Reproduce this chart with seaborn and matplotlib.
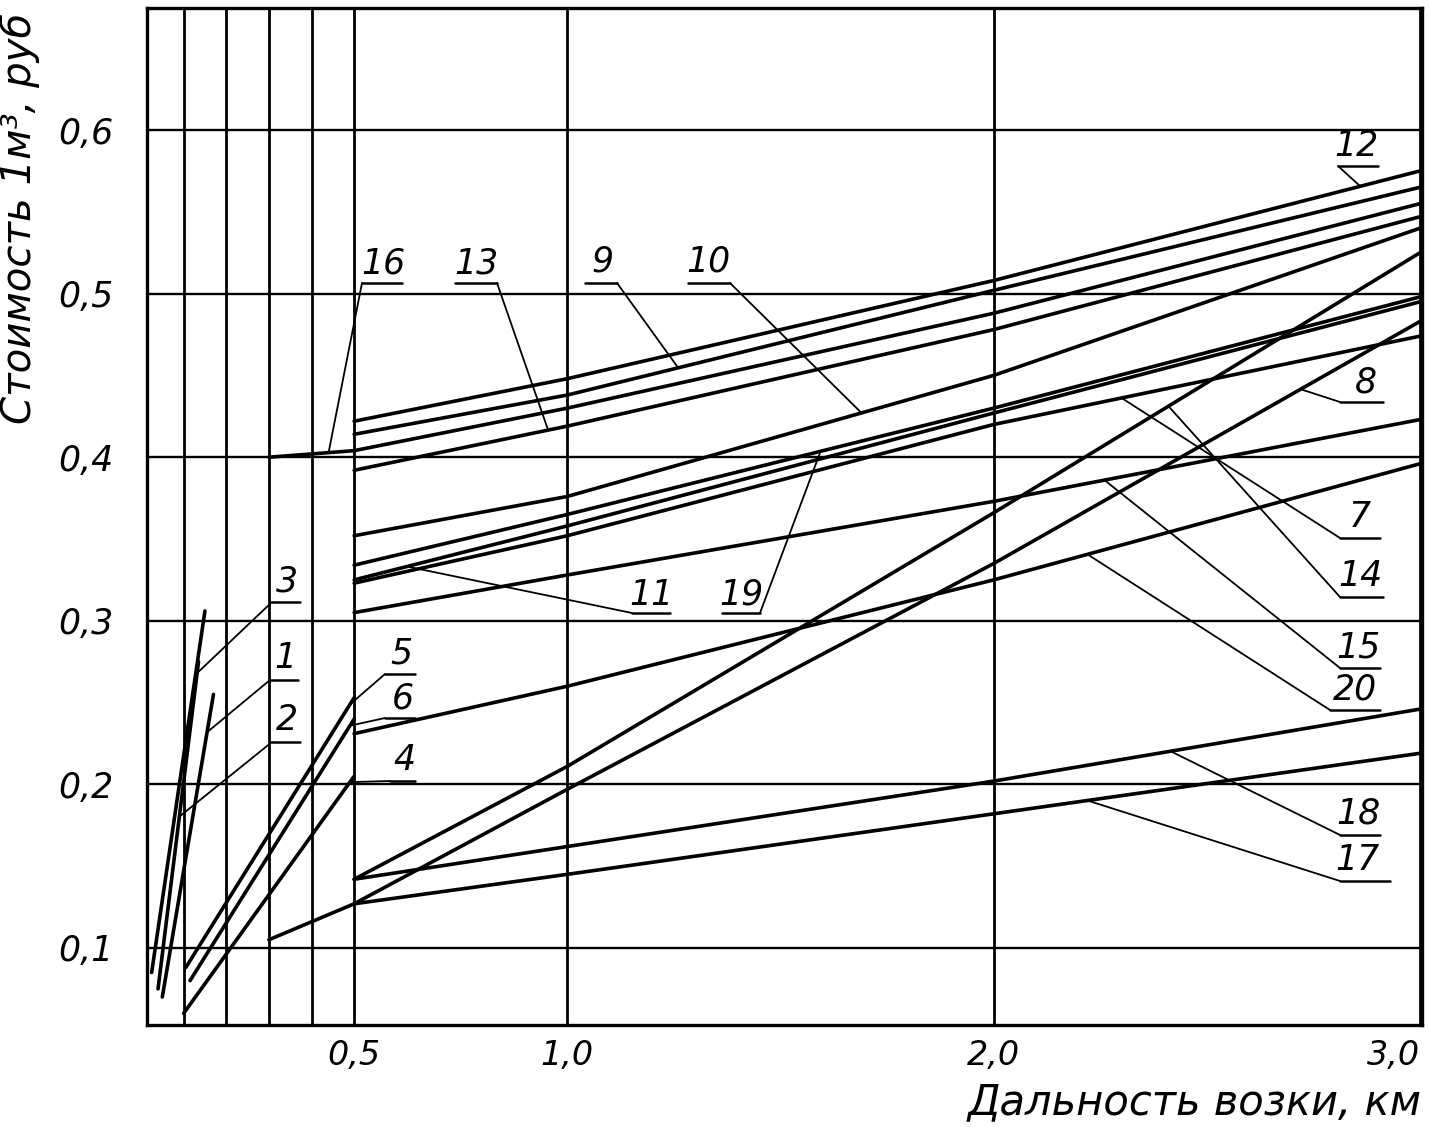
import numpy as np
import pandas as pd
import matplotlib
matplotlib.use("Agg")
import matplotlib.pyplot as plt
import seaborn as sns

# ---------------- data ----------------
x01 = [0.050, 0.170]; y01 = [0.070, 0.255]
x02 = [0.040, 0.135]; y02 = [0.075, 0.275]
x03 = [0.025, 0.150]; y03 = [0.085, 0.306]
x04 = [0.100, 0.500]; y04 = [0.060, 0.205]
x05 = [0.105, 0.500]; y05 = [0.088, 0.253]
x06 = [0.115, 0.500]; y06 = [0.080, 0.240]
xlong = [0.5, 1.0, 2.0, 3.0]
y07 = [0.323, 0.352, 0.420, 0.474]
y08 = [0.127, 0.197, 0.335, 0.483]
y09 = [0.414, 0.438, 0.502, 0.565]
y10 = [0.352, 0.376, 0.450, 0.540]
y11 = [0.325, 0.358, 0.427, 0.495]
y12 = [0.422, 0.448, 0.508, 0.575]
y13 = [0.392, 0.419, 0.478, 0.547]
y14 = [0.142, 0.211, 0.366, 0.525]
y15 = [0.305, 0.328, 0.373, 0.423]
x16 = [0.3, 0.5, 1.0, 2.0, 3.0]; y16 = [0.400, 0.404, 0.430, 0.488, 0.555]
x17 = [0.3, 0.5, 1.0, 2.0, 3.0]; y17 = [0.105, 0.127, 0.145, 0.182, 0.219]
y18 = [0.142, 0.162, 0.202, 0.246]
y19 = [0.334, 0.365, 0.430, 0.498]
y20 = [0.231, 0.260, 0.325, 0.396]

curve_names = ["1", "2", "3", "4", "5", "6", "7", "8", "9", "10",
               "11", "12", "13", "14", "15", "16", "17", "18", "19", "20"]
curve_x = [x01, x02, x03, x04, x05, x06, xlong, xlong, xlong, xlong,
           xlong, xlong, xlong, xlong, xlong, x16, x17, xlong, xlong, xlong]
curve_y = [y01, y02, y03, y04, y05, y06, y07, y08, y09, y10,
           y11, y12, y13, y14, y15, y16, y17, y18, y19, y20]

y_ticks = [0.1, 0.2, 0.3, 0.4, 0.5, 0.6]
y_tick_labels = ["0,1", "0,2", "0,3", "0,4", "0,5", "0,6"]
x_ticks = [0.1, 0.2, 0.3, 0.4, 0.5, 1.0, 2.0, 3.0]
x_tick_labels = ["", "", "", "", "0,5", "1,0", "2,0", "3,0"]

# label callouts: name, text pos (px), underline y (px), underline x1,x2 (px), leader side, target x on curve
lab_name = ["16", "13", "9", "10", "12", "8", "7", "14", "15", "20", "18", "17",
            "11", "19", "3", "1", "2", "5", "6", "4"]
lab_tx = [383, 476, 603, 708, 1356, 1366, 1360, 1360, 1358, 1355, 1358, 1357,
          651, 741, 287, 285, 287, 401, 403, 404]
lab_ty = [264, 264, 262, 262, 146, 383, 517, 576, 648, 690, 814, 860,
          595, 595, 582, 658, 720, 654, 699, 760]
lab_uy = [283, 283, 283, 283, 166, 402, 538, 597, 668, 710, 835, 881,
          613, 613, 602, 680, 742, 674, 718, 781]
lab_u1 = [362, 455, 585, 688, 1338, 1340, 1340, 1340, 1340, 1330, 1340, 1340,
          632, 722, 272, 270, 272, 385, 385, 390]
lab_u2 = [402, 497, 617, 730, 1378, 1383, 1380, 1383, 1380, 1380, 1380, 1390,
          670, 760, 300, 298, 300, 415, 415, 415]
lab_side = ["L", "R", "R", "R", "L", "L", "L", "L", "L", "L", "L", "L",
            "L", "R", "L", "L", "L", "L", "L", "L"]
lab_target = [0.44, 0.955, 1.26, 1.69, 2.86, 2.72, 2.30, 2.41, 2.26, 2.22, 2.415, 2.22,
              0.624, 1.594, 0.128, 0.155, 0.09, 0.49, 0.49, 0.49]

# ---------------- build table ----------------
rows = []
for n, xs, ys in zip(curve_names, curve_x, curve_y):
    for xv, yv in zip(xs, ys):
        rows.append({"curve": n, "x": xv, "y": yv})
df = pd.DataFrame(rows)

# ---------------- figure ----------------
sns.set_theme(style="white")
plt.rcParams["font.family"] = ["DejaVu Sans"]
plt.rcParams["font.style"] = "italic"
plt.rcParams["text.color"] = "black"
plt.rcParams["axes.labelcolor"] = "black"
plt.rcParams["xtick.color"] = "black"
plt.rcParams["ytick.color"] = "black"

W, H = 1429, 1127
fig = plt.figure(figsize=(W / 100, H / 100), dpi=100)
ax_l, ax_r, ax_b, ax_t = 147, 1422, 1025, 8
ax = fig.add_axes([ax_l / W, 1 - ax_b / H, (ax_r - ax_l) / W, (ax_b - ax_t) / H])

XMIN, XMAX = 0.0141, 3.0047
YMIN, YMAX = 0.0529, 0.6746
ax.set_xlim(XMIN, XMAX)
ax.set_ylim(YMIN, YMAX)

def px2data(px, py):
    xd = XMIN + (px - ax_l) / (ax_r - ax_l) * (XMAX - XMIN)
    yd = YMAX - (py - ax_t) / (ax_b - ax_t) * (YMAX - YMIN)
    return xd, yd

# grid
for xv in x_ticks:
    ax.axvline(xv, color="black", lw=2.0, zorder=1)
for yv in y_ticks:
    ax.axhline(yv, color="black", lw=1.7, zorder=1)

sns.lineplot(data=df, x="x", y="y", units="curve", estimator=None, sort=False,
             color="black", lw=2.6, ax=ax, legend=False, zorder=3)

# callouts
for n, tx, ty, uy, u1, u2, side, tgt in zip(lab_name, lab_tx, lab_ty, lab_uy,
                                             lab_u1, lab_u2, lab_side, lab_target):
    i = curve_names.index(n)
    ty_d = np.interp(tgt, curve_x[i], curve_y[i])
    txd, tyd = px2data(tx, ty)
    ax.text(txd, tyd, n, fontsize=25, ha="center", va="center", style="italic",
            color="black", zorder=5)
    a1 = px2data(u1, uy)
    a2 = px2data(u2, uy)
    ax.plot([a1[0], a2[0]], [a1[1], a2[1]], color="black", lw=1.8, zorder=4)
    s = a1 if side == "L" else a2
    ax.plot([s[0], tgt], [s[1], ty_d], color="black", lw=1.3, zorder=4)

# ticks & labels
ax.set_xticks(x_ticks)
ax.set_xticklabels(x_tick_labels, fontsize=24, style="italic", color="black")
ax.set_yticks(y_ticks)
ax.set_yticklabels(y_tick_labels, fontsize=25, style="italic", color="black")
ax.tick_params(axis="both", length=0)
ax.tick_params(axis="y", pad=24)
ax.tick_params(axis="x", pad=10)
lbls = ax.get_xticklabels()
lbls[-1].set_ha("right")

ax.set_xlabel("Дальность возки, км", fontsize=30, style="italic", loc="right",
              color="black")
ax.xaxis.set_label_coords(1.0, -0.055)
ax.set_ylabel("Стоимость 1м³, руб", fontsize=29, style="italic", loc="top",
              color="black")
ax.yaxis.set_label_coords(-0.084, 0.995)

for sp in ax.spines.values():
    sp.set_color("black")
    sp.set_linewidth(2.4)
    sp.set_visible(True)

fig.savefig("out.png", dpi=100, facecolor="white")
